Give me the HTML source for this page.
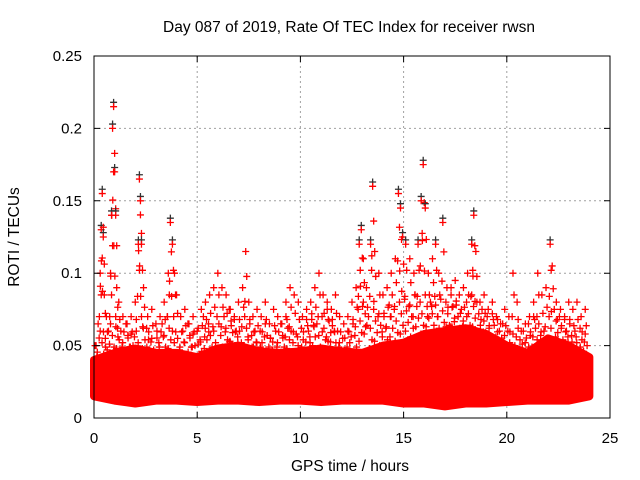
<!DOCTYPE html>
<html><head><meta charset="utf-8">
<style>
body{margin:0;background:#fff;}
svg{display:block;font-family:"Liberation Sans",sans-serif;}
</style></head>
<body>
<svg id="chart" width="640" height="480">
<text x="349" y="32" font-size="15.5" text-anchor="middle">Day 087 of 2019, Rate Of TEC Index for receiver rwsn</text>
<text x="350" y="471" font-size="15.5" text-anchor="middle">GPS time / hours</text>
<text transform="translate(19,237) rotate(-90)" font-size="15.5" text-anchor="middle">ROTI / TECUs</text>
<g id="grid"></g>
<g id="band"></g>
<g id="marks"></g>
<rect x="94" y="56" width="516" height="362" fill="none" stroke="#000" stroke-width="1"/>
<g id="ticks"></g>
</svg>
<script>
const xTicks=[0,5,10,15,20,25];
const yTicks=[0,0.05,0.1,0.15,0.2,0.25];
const yTickLabels=["0","0.05","0.1","0.15","0.2","0.25"];
const bandHours=[0,1,2,3,4,5,6,7,8,9,10,11,12,13,14,15,16,17,18,19,20,21,22,23,24];
const bandLow=[0.015,0.012,0.01,0.012,0.012,0.011,0.012,0.012,0.011,0.012,0.012,0.011,0.012,0.012,0.012,0.01,0.01,0.008,0.01,0.01,0.011,0.012,0.012,0.012,0.015];
const bandHigh=[0.04,0.045,0.048,0.045,0.045,0.042,0.048,0.05,0.046,0.045,0.046,0.048,0.046,0.045,0.05,0.052,0.058,0.06,0.062,0.058,0.05,0.045,0.055,0.05,0.042];
const times=[0.05,0.1,0.2,0.3,0.35,0.4,0.45,0.5,0.6,0.7,0.8,0.85,0.9,0.95,1.0,1.05,1.1,1.2,1.4,1.6,1.8,2.0,2.15,2.2,2.25,2.3,2.4,2.6,2.8,3.0,3.2,3.4,3.6,3.7,3.8,3.9,4.0,4.2,4.4,4.6,4.8,5.0,5.2,5.4,5.6,5.8,6.0,6.2,6.4,6.6,6.8,7.0,7.2,7.35,7.5,7.7,7.9,8.1,8.3,8.5,8.7,8.9,9.1,9.3,9.5,9.7,9.9,10.1,10.3,10.5,10.7,10.9,11.1,11.3,11.5,11.7,11.9,12.1,12.3,12.5,12.7,12.85,12.95,13.05,13.2,13.4,13.5,13.6,13.8,14.0,14.2,14.4,14.6,14.75,14.85,14.95,15.1,15.3,15.5,15.7,15.85,15.95,16.05,16.2,16.4,16.55,16.7,16.9,17.1,17.3,17.5,17.7,17.9,18.1,18.3,18.4,18.5,18.7,18.9,19.1,19.3,19.5,19.7,19.9,20.1,20.3,20.5,20.7,20.9,21.1,21.3,21.5,21.7,21.9,22.1,22.2,22.4,22.6,22.8,23.0,23.2,23.4,23.6,23.8];
const roti=[0.03,0.05,0.065,0.1,0.13,0.155,0.125,0.085,0.07,0.06,0.1,0.14,0.2,0.215,0.17,0.14,0.09,0.08,0.07,0.065,0.07,0.08,0.12,0.165,0.15,0.12,0.09,0.07,0.075,0.065,0.07,0.08,0.1,0.135,0.12,0.1,0.085,0.07,0.075,0.065,0.07,0.06,0.075,0.08,0.085,0.09,0.1,0.09,0.085,0.075,0.07,0.08,0.09,0.115,0.08,0.07,0.075,0.07,0.08,0.065,0.075,0.07,0.065,0.08,0.09,0.085,0.08,0.07,0.075,0.08,0.09,0.1,0.085,0.08,0.075,0.085,0.07,0.065,0.07,0.08,0.09,0.12,0.13,0.11,0.09,0.12,0.16,0.115,0.1,0.085,0.09,0.1,0.11,0.155,0.145,0.125,0.12,0.11,0.1,0.12,0.15,0.175,0.145,0.1,0.11,0.12,0.1,0.135,0.09,0.09,0.095,0.085,0.09,0.1,0.12,0.14,0.115,0.08,0.085,0.075,0.08,0.07,0.065,0.075,0.07,0.1,0.08,0.06,0.065,0.07,0.08,0.1,0.085,0.09,0.12,0.105,0.08,0.075,0.07,0.08,0.075,0.08,0.07,0.075];
const midVals=[0.05,0.06,0.055,0.065,0.07,0.06,0.065,0.058,0.06,0.07,0.062,0.055,0.06,0.065,0.07,0.06,
0.055,0.06,0.065,0.058,0.062,0.07,0.065,0.06,0.065,0.07,0.075,0.068,0.06,0.07,0.065,0.06,
0.06,0.065,0.055,0.06,0.065,0.07,0.06,0.058,0.062,0.068,0.072,0.065,0.07,0.075,0.068,0.06,
0.055,0.06,0.065,0.075,0.08,0.07,0.075,0.072,0.07,0.078,0.075,0.08,0.082,0.078,0.085,0.08,
0.085,0.08,0.078,0.082,0.08,0.085,0.078,0.075,0.08,0.085,0.08,0.075,0.07,0.072,0.068,0.065,
0.06,0.058,0.062,0.06,0.065,0.07,0.065,0.06,0.07,0.075,0.07,0.068,0.065,0.06,0.062,0.058];
const midStep=0.25;
const NS="http://www.w3.org/2000/svg";
const X0=94,X1=610,Y0=418,Y1=56;
const xs=t=>X0+(t/25)*(X1-X0);
const ys=v=>Y0-(v/0.25)*(Y0-Y1);
function mk(tag,attrs,parent){const e=document.createElementNS(NS,tag);for(const k in attrs)e.setAttribute(k,attrs[k]);parent.appendChild(e);return e;}
const grid=document.getElementById('grid'),ticks=document.getElementById('ticks');
xTicks.forEach(t=>{
 if(t>0&&t<25){const g=mk('line',{x1:xs(t),x2:xs(t),y1:Y1,y2:Y0,stroke:'#a0a0a0','stroke-dasharray':'2,3'},grid);
 }
 const tk=mk('path',{d:`M${xs(t)} ${Y0}v-6M${xs(t)} ${Y1}v6`,stroke:'#000'},ticks);
 
 const l=mk('text',{x:xs(t),y:443,'font-size':15,'text-anchor':'middle'},ticks);l.textContent=t;
 
});
yTicks.forEach((v,i)=>{
 if(i>0&&i<yTicks.length-1){const g=mk('line',{x1:X0,x2:X1,y1:ys(v),y2:ys(v),stroke:'#a0a0a0','stroke-dasharray':'2,3'},grid);
 }
 const tk=mk('path',{d:`M${X0} ${ys(v)}h6M${X1} ${ys(v)}h-6`,stroke:'#000'},ticks);
 
 const l=mk('text',{x:82,y:ys(v)+5,'font-size':15,'text-anchor':'end'},ticks);l.textContent=yTickLabels[i];
 
});
let d='';
bandHours.forEach((h,i)=>{d+=(i?'L':'M')+xs(h)+' '+ys(bandHigh[i]);});
for(let i=bandHours.length-1;i>=0;i--)d+='L'+xs(bandHours[i])+' '+ys(bandLow[i]);
const band=mk('path',{d:d+'Z',fill:'#ff0000',stroke:'#ff0000','stroke-width':8,'stroke-linejoin':'round'},document.getElementById('band'));

const marks=document.getElementById('marks');
function plus(t,v,col){const x=xs(t),y=ys(v);
 const p=mk('path',{d:`M${x-3.5} ${y}h7M${x} ${y-3.5}v7`,stroke:col,'stroke-width':1.3},marks);
 }
midVals.forEach((v,i)=>{const t=i*midStep+0.05;
 plus(t,v,'#ff0000');plus(t+0.09,v-0.008,'#ff0000');plus(t+0.17,v-0.016,'#ff0000');plus(t+0.04,v-0.022,'#ff0000');});
times.forEach((t,i)=>{if(roti[i]>=0.12)plus(t,roti[i]+0.003,'#333');plus(t,roti[i],'#ff0000');plus(t+0.05,roti[i]*0.85,'#ff0000');plus(t-0.04,roti[i]*0.7,'#ff0000');});
</script>
</body></html>
